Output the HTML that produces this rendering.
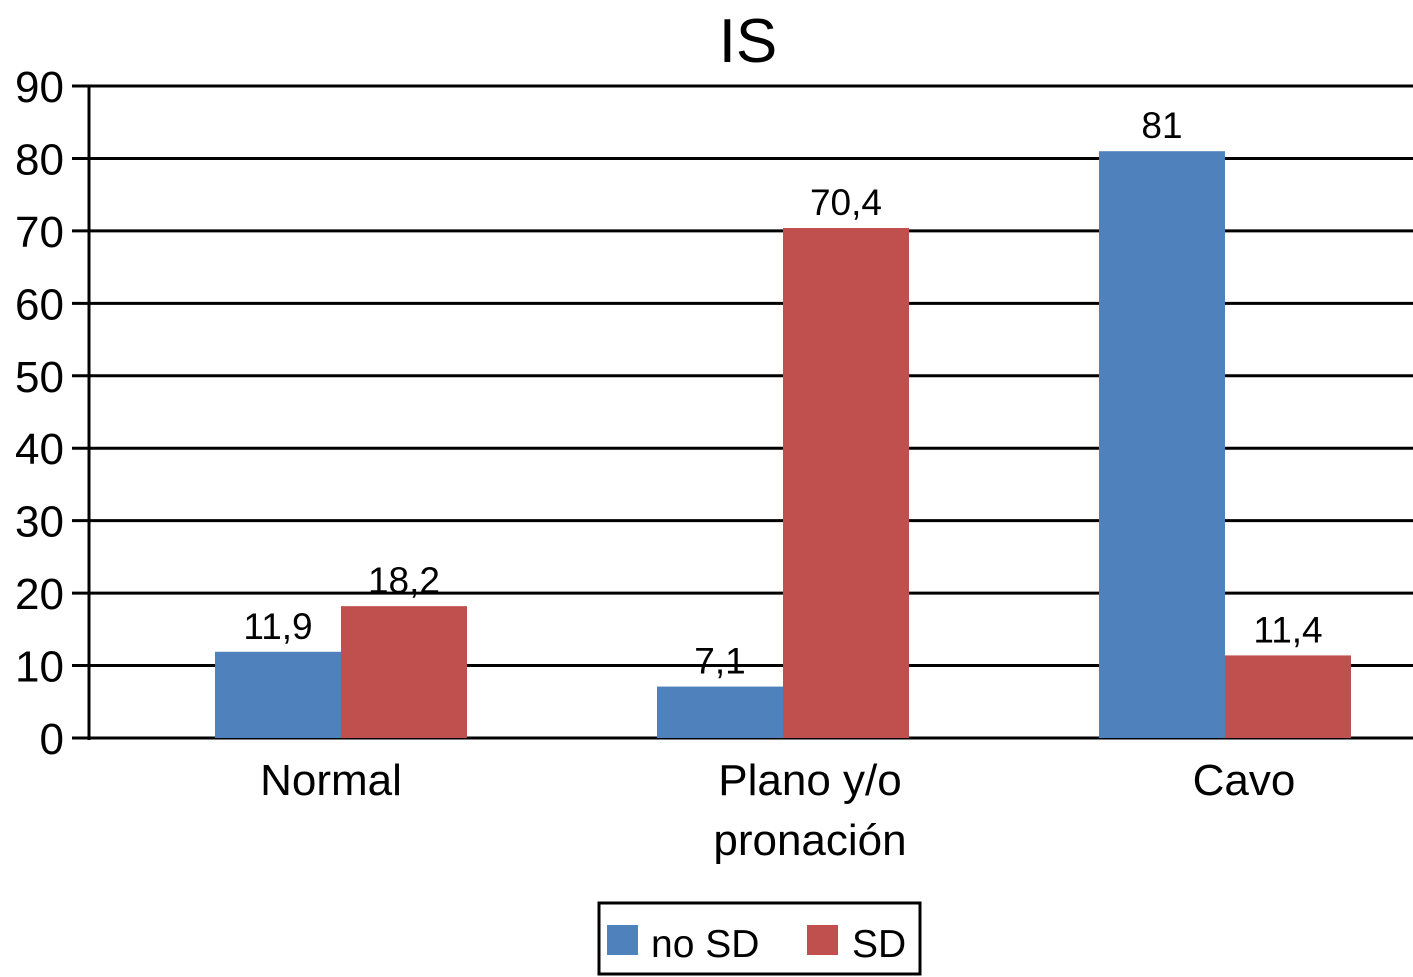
<!DOCTYPE html>
<html><head><meta charset="utf-8"><style>
html,body{margin:0;padding:0;background:#fff;}
svg{display:block;font-family:"Liberation Sans",Arial,sans-serif;}
</style></head><body>
<svg id="chart" width="1413" height="977" viewBox="0 0 1413 977">
<text x="748" y="62" font-size="62" text-anchor="middle">IS</text>
<g id="grid"></g><g id="bars"></g><g id="labels"></g>
<g>
<rect x="599" y="903" width="321" height="71" fill="#fff" stroke="#000" stroke-width="3"/>
<rect x="607" y="925" width="31" height="30" fill="#4f81bd"/>
<text x="651" y="957" font-size="39">no SD</text>
<rect x="807" y="925" width="31" height="30" fill="#c0504d"/>
<text x="852" y="957" font-size="39">SD</text>
</g>
</svg>
<script>
const categories=[["Normal"],["Plano y/o","pronación"],["Cavo"]];
const noSD=[11.9,7.1,81];
const sd=[18.2,70.4,11.4];
const valueLabelsNoSD=["11,9","7,1","81"];
const valueLabelsSD=["18,2","70,4","11,4"];
const yTicks=[0,10,20,30,40,50,60,70,80,90];
const NS="http://www.w3.org/2000/svg";
const x0=89,y0=738,yTop=86,yMax=90;
const yS=v=>y0-(y0-yTop)*v/yMax;
const groupW=442,firstCenter=341;
const gc=i=>firstCenter+groupW*i;
const bw=126;
const labelOffsets=[-10,27,19];
function mk(tag,attrs,parent){const e=document.createElementNS(NS,tag);for(const k in attrs)e.setAttribute(k,attrs[k]);parent.appendChild(e);return e;}
const grid=document.getElementById('grid'),bars=document.getElementById('bars'),labels=document.getElementById('labels');
yTicks.forEach(t=>{
 const l=mk('line',{x1:72,x2:1413,y1:yS(t),y2:yS(t),stroke:'#000','stroke-width':3},grid);
 
 
 const tx=mk('text',{x:64,y:yS(t)+16,'font-size':44,'text-anchor':'end'},grid);
 tx.textContent=t;
 
 
});
const ax=mk('line',{x1:x0,x2:x0,y1:yTop,y2:y0+2,stroke:'#000','stroke-width':3},grid);


categories.forEach((c,i)=>{
 const cx=gc(i);
 [[noSD,valueLabelsNoSD,'#4f81bd','no-sd',cx-bw],[sd,valueLabelsSD,'#c0504d','sd',cx]].forEach(([arr,lab,col,nm,bx])=>{
  const v=arr[i];
  const r=mk('rect',{x:bx,y:yS(v),width:bw,height:y0-yS(v),fill:col},bars);
  
  
  const t=mk('text',{x:bx+bw/2,y:yS(v)-13,'font-size':37,'text-anchor':'middle'},labels);
  t.textContent=lab[i];
  
  
 });
 c.forEach((line,j)=>{
  const t=mk('text',{x:cx+labelOffsets[i],y:795+j*60,'font-size':44,'text-anchor':'middle'},labels);
  t.textContent=line;
  
  
 });
});
</script>
</body></html>
